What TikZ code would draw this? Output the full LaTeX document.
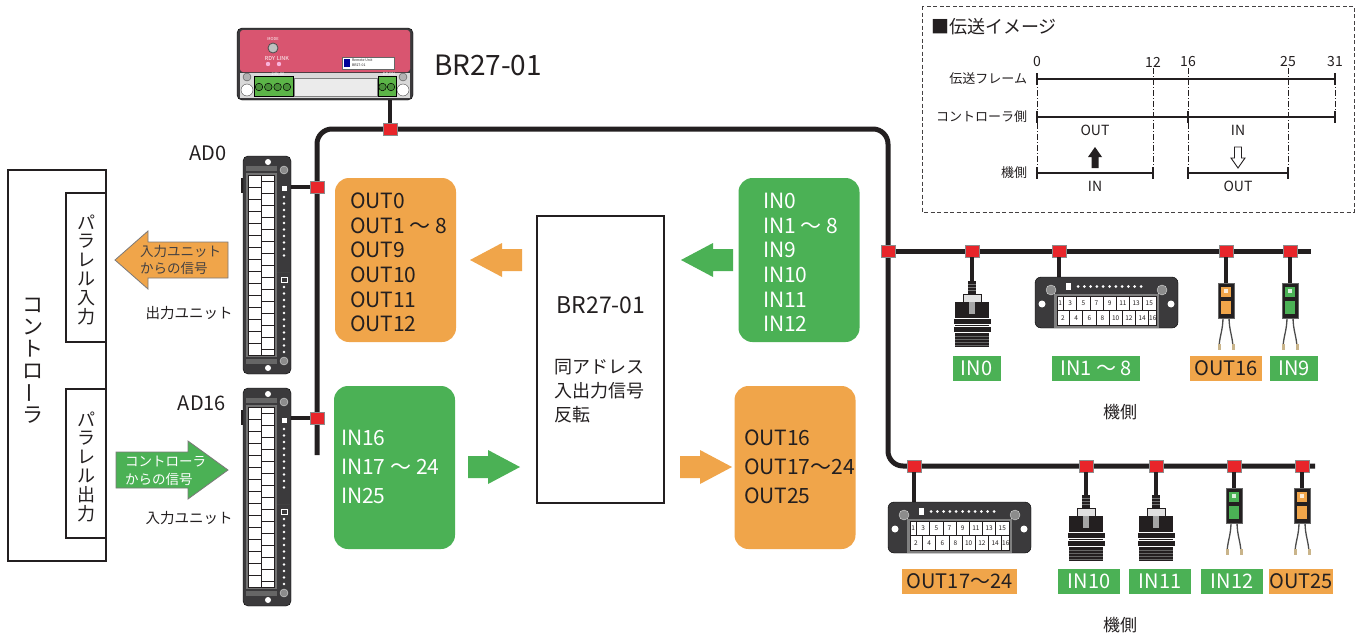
\documentclass[tikz,border=0pt]{standalone}
\usepackage{fontspec}
\setmainfont{Noto Sans CJK JP}
\newcommand\myfs[1]{\fontsize{#1}{#1}\selectfont}
\definecolor{ink}{HTML}{231F20}
\definecolor{orng}{HTML}{F0A54A}
\definecolor{grn}{HTML}{4BB155}
\definecolor{redsq}{HTML}{E8252A}
\definecolor{pinkd}{HTML}{D95570}
\definecolor{devdark}{HTML}{3B3A3C}
\definecolor{termgrn}{HTML}{5CB548}
\definecolor{wiretip}{HTML}{C9B48A}
\tikzset{
  bus/.style={line width=5, color=ink},
  cable/.style={line width=4.5, color=ink},
  jn/.style={draw=black!45, line width=0.6, fill=redsq, minimum width=14, minimum height=12, inner sep=0},
  sigbox/.style={rounded corners=14, minimum width=121, minimum height=164, inner sep=0},
  sigtxt/.style={anchor=west, font=\myfs{21}, inner sep=0},
  lab/.style={minimum height=25, inner sep=0, font=\myfs{20}},
  tl/.style={line width=1.6, color=ink},
  tk/.style={line width=2.6, color=ink},
  dd/.style={line width=0.8, color=ink, dash pattern=on 6pt off 2pt on 1pt off 2pt},
  barrow/.pic={\fill[#1] (0,0) -- (32,-17) -- (32,-11) -- (52,-11) -- (52,11) -- (32,11) -- (32,17) -- cycle;},
  sensor/.pic={
    \fill[ink] (-4,0) rectangle (4,13);
    \foreach \yy in {3,6,9} \draw[black!55, line width=0.5] (-4,\yy) -- (4,\yy);
    \filldraw[fill=black!12, draw=ink, line width=0.8] (-9,13) rectangle (9,21);
    \fill[ink] (-17,21) rectangle (17,66);
    \fill[black!35] (-3,21) rectangle (3,33);
    \filldraw[fill=ink, draw=white, line width=0.8] (-19,37) rectangle (19,43);
    \filldraw[fill=ink, draw=white, line width=0.8] (-19,45) rectangle (19,51);
    \foreach \yy in {55,58,61,64} \draw[black!60, line width=0.4] (-17,\yy) -- (17,\yy);
  },
  conn/.pic={
    \draw[black!70, line width=1.3] (-3,34) .. controls (-3,48) and (-7,54) .. (-7,66);
    \draw[black!70, line width=1.3] (3,34) .. controls (3,48) and (7,54) .. (7,66);
    \fill[wiretip] (-8.5,61) rectangle (-5.5,67);
    \fill[wiretip] (5.5,61) rectangle (8.5,67);
    \filldraw[fill=ink, draw=black!60, line width=0.6] (-8,0) rectangle (8,35);
    \fill[#1] (-5,4) rectangle (5,14);
    \fill[#1] (-5,18) rectangle (5,31);
    \fill[white!80!#1] (-2,6) rectangle (2,10);
  },
  adunit/.pic={
    \filldraw[fill=devdark, draw=black, rounded corners=5] (0,0) rectangle (48,218);
    \fill[ink] (-2.5,22) rectangle (0,37);
    \fill[black!60] (3,10) rectangle (34,15);
    \fill[black!60] (3,203) rectangle (34,208);
    \fill[black!55] (3,17) rectangle (34,201);
    \filldraw[fill=white, draw=ink, line width=0.5] (5,19) rectangle (31,199);
    \draw[ink, line width=0.5] (18,19) -- (18,199);
    \foreach \k in {1,...,14} \draw[ink, line width=0.6] (5,19+12*\k) -- (18,19+12*\k);
    \foreach \k in {0,...,14} \draw[ink, line width=0.6] (18,25+12*\k) -- (31,25+12*\k);
    \draw[black!75, line width=0.6] (34,116) -- (47,116);
    \fill[white] (38.5,30) rectangle (44,35);
    \foreach \k in {0,...,9} \fill[white] (41,41+6.5*\k) circle (1.3);
    \draw[white, line width=0.5] (38.5,121) rectangle (44,126);
    \foreach \k in {0,...,10} \fill[white] (41,131+6.5*\k) circle (1.3);
    \filldraw[fill=black!45, draw=black!15] (41,14) circle (4);
    \filldraw[fill=black!45, draw=black!15] (41,205) circle (4);
    \fill[white] (25,6) circle (3);
    \fill[white] (25,212) circle (3);
  },
  tblock/.pic={
    \filldraw[fill=devdark, draw=black, rounded corners=6] (0,0) rectangle (143,51);
    \filldraw[fill=black!45, draw=black!15] (16,13) circle (5);
    \filldraw[fill=black!45, draw=black!15] (127,13) circle (5);
    \fill[white] (7,27) circle (3.5);
    \fill[white] (136,27) circle (3.5);
    \fill[black!50] (19,17) rectangle (124,51);
    \filldraw[fill=white, draw=ink, line width=0.5] (22,19) rectangle (121,48);
    \draw[ink, line width=0.6] (22,33.5) -- (121,33.5);
    \foreach \k in {0,...,6} \draw[ink, line width=0.6] (28.5+13.2*\k,19) -- (28.5+13.2*\k,33.5);
    \foreach \k in {0,...,6} \draw[ink, line width=0.6] (34.5+13.2*\k,33.5) -- (34.5+13.2*\k,48);
    \node[font=\myfs{6.5}] (na1) at (25.2,26.5) {1};
    \foreach \k [evaluate=\k as \nn using int(2*\k+1)] in {1,...,7} \node[font=\myfs{6.5}] (nt\k) at (28.5+13.2*\k-6.6,26.5) {\nn};
    \foreach \k [evaluate=\k as \nn using int(2*\k+2)] in {0,...,6} \node[font=\myfs{6.5}] (nb\k) at (34.5+13.2*\k-6.6,41) {\nn};
    \node[font=\myfs{6.5}] (nb16) at (117.8,41) {16};
    \fill[white] (31,6) rectangle (36,13);
    \foreach \k in {0,...,10} \fill[white] (43+6.3*\k,9.5) circle (1.5);
  }
}
\begin{document}
\begin{tikzpicture}[x=1pt,y=-1pt,inner sep=0,outer sep=0,every node/.style={text=ink}]
\useasboundingbox (0,0) rectangle (1360,637);
\fill[white] (0,0) rectangle (1360,637);

% ---------------- legend ----------------
\draw[ink!85, line width=1, dash pattern=on 4pt off 2.5pt] (922,6) rectangle (1354,212);
\node[font=\myfs{18}, anchor=west] (ltitle) at (931,27) {■伝送イメージ};
\foreach \nv/\xx in {0/1037,12/1153,16/1188,25/1288,31/1335} \node[font=\myfs{14}] (num\nv) at (\xx,62) {\nv};
\node[font=\myfs{13}, anchor=east] (rl1) at (1027,79) {伝送フレーム};
\node[font=\myfs{13}, anchor=east] (rl2) at (1027,117) {コントローラ側};
\node[font=\myfs{13}, anchor=east] (rl3) at (1027,173) {機側};
\draw[dd] (1037,79) -- (1037,173);
\draw[dd] (1153,68) -- (1153,173);
\draw[dd] (1188,68) -- (1188,173);
\draw[dd] (1288,68) -- (1288,173);
\draw[dd] (1335,79) -- (1335,117);
\draw[tl] (1037,79) -- (1335,79);
\foreach \xx in {1037,1335} \draw[tk] (\xx,73) -- (\xx,85);
\draw[tl] (1037,117) -- (1335,117);
\foreach \xx in {1037,1188,1335} \draw[tk] (\xx,111) -- (\xx,123);
\draw[tl] (1037,173) -- (1153,173);
\draw[tl] (1188,173) -- (1288,173);
\foreach \xx in {1037,1153,1188,1288} \draw[tk] (\xx,167) -- (\xx,179);
\node[font=\myfs{14}] (lo1) at (1095,130) {OUT};
\node[font=\myfs{14}] (li1) at (1238,130) {IN};
\node[font=\myfs{14}] (li2) at (1095,186) {IN};
\node[font=\myfs{14}] (lo2) at (1238,186) {OUT};
\fill[ink] (1095,147) -- (1088,157) -- (1091.5,157) -- (1091.5,168) -- (1098.5,168) -- (1098.5,157) -- (1102,157) -- cycle;
\filldraw[fill=white, draw=ink, line width=0.9] (1238,168) -- (1231,158) -- (1234.5,158) -- (1234.5,147) -- (1241.5,147) -- (1241.5,158) -- (1245,158) -- cycle;

% ---------------- bus ----------------
\coordinate (busL) at (317,455);
\coordinate (busR) at (1315,466);
\coordinate (brEnd) at (1311,251);
\draw[bus, rounded corners=15] (busL) -- (317,129) -- (888,129) -- (888,466) -- (busR);
\draw[bus] (888,251) -- (brEnd);

% junction squares
\node[jn] (sqB) at (390,129) {};
\node[jn] (sqA0) at (317,187) {};
\node[jn] (sqA16) at (317,418) {};
\node[jn] (sqJ) at (888,251) {};
\node[jn] (t1) at (972,251) {};
\node[jn] (t2) at (1059,251) {};
\node[jn] (t3) at (1226,251) {};
\node[jn] (t4) at (1290,251) {};
\node[jn] (b1) at (914,466) {};
\node[jn] (b2) at (1086,466) {};
\node[jn] (b3) at (1156,466) {};
\node[jn] (b4) at (1234,466) {};
\node[jn] (b5) at (1302,466) {};

% ---------------- top device BR27-01 ----------------
\node[minimum width=176, minimum height=72, anchor=north west] (brdev) at (237,28) {};
\draw[cable] (sqB) -- (sqB |- brdev.south);
\begin{scope}[shift={(237,28)}]
  \filldraw[fill=devdark, draw=black, rounded corners=5] (0,0) rectangle (176,72);
  \fill[pinkd, rounded corners=3] (3,2) rectangle (173,44);
  \fill[black!15] (3,45) rectangle (173,70);
  \filldraw[fill=black!30, draw=black!70] (10,49) circle (4);
  \filldraw[fill=white, draw=black!70] (10,62) circle (6);
  \filldraw[fill=black!30, draw=black!70] (166,49) circle (4);
  \filldraw[fill=white, draw=black!70] (166,62) circle (6);
  \filldraw[fill=termgrn, draw=black, line width=0.6] (17,48) rectangle (56,68);
  \foreach \k in {0,...,3} \filldraw[fill=termgrn!80!black, draw=black, line width=0.5] (22+9.3*\k,59) circle (3.8);
  \filldraw[fill=black!8, draw=black!50] (57,50) rectangle (140,68);
  \filldraw[fill=termgrn, draw=black, line width=0.6] (141,48) rectangle (159,68);
  \foreach \k in {0,1} \filldraw[fill=termgrn!80!black, draw=black, line width=0.5] (145.5+8.5*\k,59) circle (3.8);
  \filldraw[fill=black!25, draw=black!70, line width=0.8] (36,20) circle (5);
  \fill[white!70!magenta] (31,36) circle (2.2);
  \fill[white!70!magenta] (42,36) circle (2.2);
  \filldraw[fill=white, draw=black!60, line width=0.5] (105,29) rectangle (157,41);
  \fill[blue!60!black] (107,31) rectangle (113,39);
  \node[font=\myfs{4}, text=white] (tmode) at (36,11) {MODE};
  \node[font=\myfs{5.5}, text=white] (trdy) at (40,30) {RDY\,\,LINK};
  \node[font=\myfs{3.5}, anchor=west] (tru) at (115,32.5) {Remote Unit};
  \node[font=\myfs{3.5}, anchor=west] (trb) at (115,37.5) {BR27-01};
  \node[font=\myfs{4}, text=white] (t24) at (41,46.5) {24V\,\,0V};
  \node[font=\myfs{4}, text=white] (tdp) at (152,46.5) {DP\,\,DN};
\end{scope}
\node[font=\myfs{28}, anchor=west] (brlab) at (434,65) {BR27-01};

% ---------------- AD units ----------------
\node[minimum width=48, minimum height=218, anchor=north west] (ad0) at (243,156) {};
\node[minimum width=48, minimum height=218, anchor=north west] (ad16) at (243,388) {};
\draw[cable] (sqA0) -- (sqA0 -| ad0.east);
\draw[cable] (sqA16) -- (sqA16 -| ad16.east);
\pic at (243,156) {adunit};
\pic at (243,388) {adunit};
\node[font=\myfs{20}] (lad0) at (208,153) {AD0};
\node[font=\myfs{20}] (lad16) at (202,403) {AD16};
\node[font=\myfs{14.5}] (lout) at (189,313) {出力ユニット};
\node[font=\myfs{14.5}] (lin) at (189,518) {入力ユニット};

% ---------------- controller ----------------
\node[draw=ink, line width=2, minimum width=98, minimum height=391, anchor=north west] (ctrl) at (8,170) {};
\node[draw=ink, line width=1.3, minimum width=40, minimum height=149, anchor=north west] (pin) at (66,193) {};
\node[draw=ink, line width=1.3, minimum width=40, minimum height=149, anchor=north west] (pout) at (66,389) {};
\foreach \ch [count=\i from 0] in {コ,ン,ト,ロ,{\rotatebox{90}{ー}},ラ} \node[font=\myfs{21}] (cc\i) at (33,305+22*\i) {\ch};
\foreach \ch [count=\i from 0] in {パ,ラ,レ,ル,入,力} \node[font=\myfs{18}] (pi\i) at (86,222+19*\i) {\ch};
\foreach \ch [count=\i from 0] in {パ,ラ,レ,ル,出,力} \node[font=\myfs{18}] (po\i) at (86,419+19*\i) {\ch};

% big arrows
\filldraw[fill=orng, draw=ink!60, line width=0.8] (115,260) -- (148,231) -- (148,242) -- (228,242) -- (228,278) -- (148,278) -- (148,289) -- cycle;
\node[font=\myfs{13.5}, anchor=west, text=ink!85] (oa1) at (140,251) {入力ユニット};
\node[font=\myfs{13.5}, anchor=west, text=ink!85] (oa2) at (140,268) {からの信号};
\filldraw[fill=grn, draw=ink!60, line width=0.8] (228,470) -- (188,441) -- (188,452) -- (116,452) -- (116,488) -- (188,488) -- (188,499) -- cycle;
\node[font=\myfs{13.5}, anchor=west, text=white] (ga1) at (125,462) {コントローラ};
\node[font=\myfs{13.5}, anchor=west, text=white] (ga2) at (125,479) {からの信号};

% ---------------- signal boxes ----------------
\node[sigbox, fill=orng] (ob1) at (395.5,260) {};
\node[sigbox, fill=grn] (gb1) at (799,260) {};
\node[sigbox, fill=grn, minimum height=163] (gb2) at (394.5,467.5) {};
\node[sigbox, fill=orng, minimum height=163] (ob2) at (795,467.5) {};
\foreach \t [count=\i from 0] in {OUT0,OUT1 ～ 8,OUT9,OUT10,OUT11,OUT12} \node[sigtxt] (so\i) at (350,201+24.6*\i) {\t};
\foreach \t [count=\i from 0] in {IN0,IN1 ～ 8,IN9,IN10,IN11,IN12} \node[sigtxt, text=white] (si\i) at (763,201+24.6*\i) {\t};
\foreach \t [count=\i from 0] in {IN16,IN17 ～ 24,IN25} \node[sigtxt, text=white] (sj\i) at (341,438+29*\i) {\t};
\foreach \t [count=\i from 0] in {OUT16,OUT17～24,OUT25} \node[sigtxt] (sk\i) at (744,438+29*\i) {\t};

% center box
\node[draw=ink, line width=1.8, minimum width=127, minimum height=287] (cb) at (600.5,359.5) {};
\node[font=\myfs{23}] (cbt) at (601,305) {BR27-01};
\node[font=\myfs{18}, anchor=west] (cj1) at (554,367) {同アドレス};
\node[font=\myfs{18}, anchor=west] (cj2) at (554,391) {入出力信号};
\node[font=\myfs{18}, anchor=west] (cj3) at (554,415) {反転};

% small block arrows
\pic at (470,260) {barrow=orng};
\pic at (681,260) {barrow=grn};
\pic[xscale=-1] at (520,467) {barrow=grn};
\pic[xscale=-1] at (732,467) {barrow=orng};

% ---------------- machine side, upper line ----------------
\coordinate (s0top) at (972,281);
\coordinate (tb1top) at (1059,277);
\coordinate (c1top) at (1226,283);
\coordinate (c2top) at (1290,283);
\draw[cable] (t1) -- (s0top);
\draw[cable] (t2) -- (tb1top);
\draw[cable] (t3) -- (c1top);
\draw[cable] (t4) -- (c2top);
\pic at (972,281) {sensor};
\pic at (1035,277) {tblock};
\pic at (1226,283) {conn=orng};
\pic at (1290,283) {conn=grn};
\node[lab, fill=grn, text=white, minimum width=48] (lIN0) at (976.5,368.5) {IN0};
\node[lab, fill=grn, text=white, minimum width=88] (lIN18) at (1096,368.5) {IN1 ～ 8};
\node[lab, fill=orng, minimum width=72] (lOUT16) at (1226,368.5) {OUT16};
\node[lab, fill=grn, text=white, minimum width=48] (lIN9) at (1294,368.5) {IN9};
\node[font=\myfs{17}] (mk1) at (1120,412) {機側};

% ---------------- machine side, lower line ----------------
\coordinate (tb2top) at (914,502);
\coordinate (s1top) at (1086,495);
\coordinate (s2top) at (1156,495);
\coordinate (c3top) at (1234,488);
\coordinate (c4top) at (1302,488);
\draw[cable] (b1) -- (tb2top);
\draw[cable] (b2) -- (s1top);
\draw[cable] (b3) -- (s2top);
\draw[cable] (b4) -- (c3top);
\draw[cable] (b5) -- (c4top);
\pic at (888,502) {tblock};
\pic at (1086,495) {sensor};
\pic at (1156,495) {sensor};
\pic at (1234,488) {conn=grn};
\pic at (1302,488) {conn=orng};
\node[lab, fill=orng, minimum width=115] (lOUT1724) at (959.5,581.5) {OUT17～24};
\node[lab, fill=grn, text=white, minimum width=62] (lIN10) at (1089,581.5) {IN10};
\node[lab, fill=grn, text=white, minimum width=62] (lIN11) at (1160,581.5) {IN11};
\node[lab, fill=grn, text=white, minimum width=62] (lIN12) at (1232,581.5) {IN12};
\node[lab, fill=orng, minimum width=64] (lOUT25) at (1301,581.5) {OUT25};
\node[font=\myfs{17}] (mk2) at (1120,625) {機側};
\end{tikzpicture}
\end{document}
